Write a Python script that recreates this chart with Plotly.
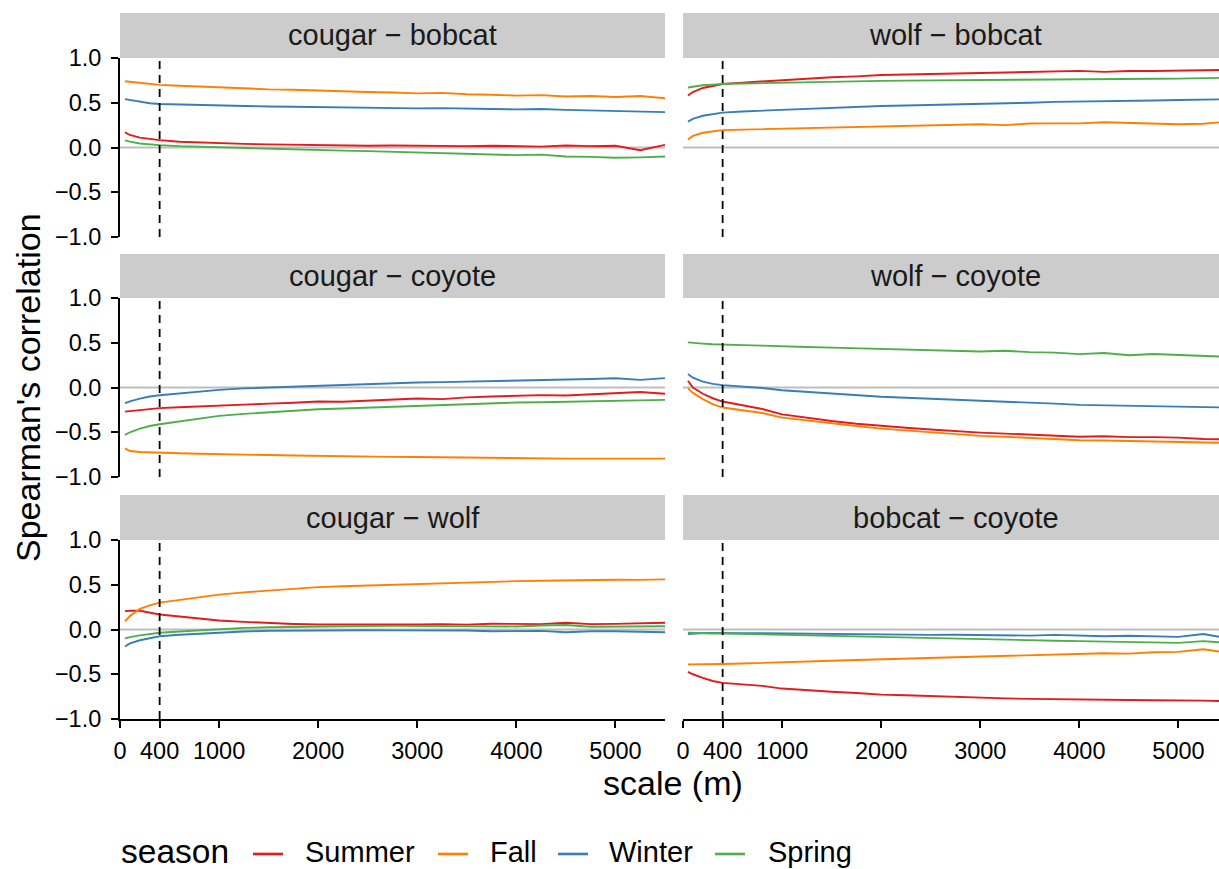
import plotly.graph_objects as go

# Spatial scale (m) at which the correlations were computed
scale_m = [50, 100, 200, 300, 400, 600, 800, 1000, 1250, 1500, 1750, 2000, 2250,
           2500, 2750, 3000, 3250, 3500, 3750, 4000, 4250, 4500, 4750, 5000, 5250, 5500]

seasons = ["Summer", "Fall", "Winter", "Spring"]
season_colors = ["#E41A1C", "#FF7F00", "#377EB8", "#4DAF4A"]

cougar_bobcat = {
    "Summer": [0.17, 0.14, 0.11, 0.095, 0.082, 0.065, 0.055, 0.045, 0.04, 0.035, 0.03, 0.022, 0.025,
               0.02, 0.022, 0.018, 0.022, 0.015, 0.02, 0.018, 0.01, 0.022, 0.015, 0.02, -0.03, 0.03],
    "Fall": [0.74, 0.735, 0.725, 0.71, 0.70, 0.69, 0.68, 0.67, 0.66, 0.65, 0.645, 0.635, 0.625,
             0.62, 0.615, 0.605, 0.61, 0.595, 0.59, 0.58, 0.585, 0.57, 0.575, 0.565, 0.575, 0.55],
    "Winter": [0.54, 0.53, 0.51, 0.495, 0.486, 0.48, 0.474, 0.467, 0.462, 0.458, 0.455, 0.45, 0.447,
               0.445, 0.44, 0.437, 0.44, 0.432, 0.43, 0.426, 0.43, 0.42, 0.415, 0.41, 0.405, 0.395],
    "Spring": [0.08, 0.065, 0.045, 0.035, 0.026, 0.015, 0.008, 0.0, -0.008, -0.015, -0.02, -0.03, -0.035,
               -0.04, -0.048, -0.055, -0.06, -0.065, -0.075, -0.085, -0.08, -0.1, -0.105, -0.115, -0.11, -0.1],
}

wolf_bobcat = {
    "Summer": [0.58, 0.62, 0.665, 0.69, 0.71, 0.725, 0.74, 0.755, 0.77, 0.785, 0.795, 0.81, 0.815,
               0.82, 0.83, 0.837, 0.84, 0.845, 0.85, 0.856, 0.845, 0.855, 0.855, 0.856, 0.86, 0.867],
    "Fall": [0.09, 0.13, 0.165, 0.183, 0.194, 0.2, 0.205, 0.213, 0.22, 0.225, 0.232, 0.24, 0.242,
             0.25, 0.255, 0.26, 0.25, 0.268, 0.27, 0.27, 0.282, 0.275, 0.262, 0.26, 0.265, 0.29],
    "Winter": [0.29, 0.32, 0.355, 0.375, 0.39, 0.403, 0.412, 0.426, 0.435, 0.445, 0.455, 0.464, 0.47,
               0.475, 0.485, 0.493, 0.495, 0.5, 0.51, 0.512, 0.52, 0.52, 0.525, 0.53, 0.535, 0.54],
    "Spring": [0.67, 0.68, 0.695, 0.703, 0.71, 0.715, 0.72, 0.725, 0.73, 0.735, 0.74, 0.744, 0.747,
               0.75, 0.753, 0.755, 0.757, 0.76, 0.762, 0.763, 0.765, 0.767, 0.768, 0.77, 0.775, 0.78],
}

cougar_coyote = {
    "Summer": [-0.27, -0.265, -0.255, -0.24, -0.23, -0.22, -0.21, -0.198, -0.19, -0.18, -0.17, -0.157, -0.16,
               -0.145, -0.135, -0.123, -0.13, -0.11, -0.1, -0.093, -0.085, -0.09, -0.075, -0.067, -0.05, -0.07],
    "Fall": [-0.68, -0.71, -0.72, -0.725, -0.728, -0.735, -0.74, -0.746, -0.75, -0.755, -0.76, -0.765, -0.77,
             -0.772, -0.775, -0.776, -0.78, -0.783, -0.787, -0.79, -0.792, -0.795, -0.795, -0.795, -0.797, -0.795],
    "Winter": [-0.175, -0.155, -0.125, -0.1, -0.086, -0.065, -0.045, -0.026, -0.01, 0.0, 0.01, 0.02, 0.028,
               0.035, 0.045, 0.056, 0.06, 0.065, 0.075, 0.082, 0.085, 0.09, 0.095, 0.104, 0.085, 0.105],
    "Spring": [-0.53, -0.5, -0.46, -0.43, -0.41, -0.38, -0.35, -0.317, -0.295, -0.275, -0.26, -0.243, -0.235,
               -0.225, -0.215, -0.205, -0.2, -0.19, -0.18, -0.168, -0.165, -0.16, -0.155, -0.149, -0.145, -0.138],
}

wolf_coyote = {
    "Summer": [0.075, 0.0, -0.07, -0.12, -0.157, -0.2, -0.24, -0.3, -0.34, -0.375, -0.405, -0.43, -0.45,
               -0.47, -0.49, -0.504, -0.515, -0.525, -0.535, -0.55, -0.545, -0.555, -0.555, -0.56, -0.575, -0.58],
    "Fall": [-0.01, -0.06, -0.13, -0.185, -0.224, -0.255, -0.285, -0.336, -0.37, -0.4, -0.43, -0.46, -0.48,
             -0.5, -0.52, -0.54, -0.55, -0.565, -0.575, -0.59, -0.593, -0.598, -0.6, -0.604, -0.61, -0.62],
    "Winter": [0.15, 0.11, 0.065, 0.04, 0.026, 0.01, -0.005, -0.03, -0.05, -0.065, -0.085, -0.104, -0.115,
               -0.125, -0.14, -0.15, -0.16, -0.17, -0.18, -0.194, -0.2, -0.205, -0.21, -0.213, -0.22, -0.224],
    "Spring": [0.504, 0.498, 0.49, 0.483, 0.478, 0.473, 0.468, 0.459, 0.452, 0.445, 0.437, 0.43, 0.425,
               0.418, 0.41, 0.403, 0.41, 0.395, 0.39, 0.373, 0.385, 0.36, 0.375, 0.366, 0.355, 0.343],
}

cougar_wolf = {
    "Summer": [0.205, 0.21, 0.21, 0.19, 0.168, 0.145, 0.125, 0.1, 0.085, 0.07, 0.062, 0.056, 0.055,
               0.058, 0.055, 0.056, 0.06, 0.055, 0.065, 0.063, 0.06, 0.075, 0.06, 0.063, 0.07, 0.075],
    "Fall": [0.09, 0.15, 0.23, 0.27, 0.3, 0.33, 0.36, 0.39, 0.415, 0.437, 0.457, 0.474, 0.483,
             0.492, 0.5, 0.51, 0.518, 0.525, 0.532, 0.54, 0.545, 0.55, 0.552, 0.556, 0.555, 0.56],
    "Winter": [-0.19, -0.155, -0.12, -0.095, -0.075, -0.058, -0.045, -0.03, -0.022, -0.015, -0.012, -0.01, -0.01,
               -0.008, -0.01, -0.01, -0.015, -0.012, -0.02, -0.02, -0.015, -0.03, -0.02, -0.02, -0.025, -0.03],
    "Spring": [-0.1, -0.085, -0.065, -0.05, -0.037, -0.022, -0.01, 0.007, 0.018, 0.025, 0.03, 0.034, 0.036,
               0.038, 0.04, 0.04, 0.042, 0.035, 0.04, 0.034, 0.045, 0.05, 0.03, 0.034, 0.04, 0.037],
}

bobcat_coyote = {
    "Summer": [-0.474, -0.5, -0.54, -0.575, -0.597, -0.615, -0.63, -0.66, -0.68, -0.695, -0.71, -0.728, -0.735,
               -0.745, -0.755, -0.765, -0.77, -0.775, -0.78, -0.784, -0.786, -0.788, -0.79, -0.79, -0.795, -0.8],
    "Fall": [-0.39, -0.39, -0.388, -0.386, -0.385, -0.38, -0.375, -0.37, -0.36, -0.35, -0.34, -0.332, -0.325,
             -0.318, -0.31, -0.3, -0.295, -0.29, -0.28, -0.27, -0.265, -0.27, -0.255, -0.25, -0.22, -0.26],
    "Winter": [-0.05, -0.045, -0.04, -0.038, -0.037, -0.04, -0.042, -0.045, -0.048, -0.05, -0.055, -0.056, -0.058,
               -0.06, -0.058, -0.063, -0.065, -0.068, -0.06, -0.07, -0.075, -0.07, -0.08, -0.082, -0.05, -0.1],
    "Spring": [-0.037, -0.04, -0.043, -0.044, -0.045, -0.05, -0.055, -0.063, -0.07, -0.075, -0.082, -0.09, -0.095,
               -0.1, -0.105, -0.112, -0.115, -0.12, -0.125, -0.13, -0.135, -0.14, -0.145, -0.15, -0.13, -0.15],
}

panel_titles = ["cougar − bobcat", "wolf − bobcat", "cougar − coyote",
                "wolf − coyote", "cougar − wolf", "bobcat − coyote"]
panel_data = [cougar_bobcat, wolf_bobcat, cougar_coyote, wolf_coyote, cougar_wolf, bobcat_coyote]

x_tick_vals = [0, 400, 1000, 2000, 3000, 4000, 5000]
x_tick_text = ["0", "400", "1000", "2000", "3000", "4000", "5000"]
y_tick_vals = [-1.0, -0.5, 0.0, 0.5, 1.0]
y_tick_text = ["−1.0", "−0.5", "0.0", "0.5", "1.0"]
reference_scale = 400

# ---- page geometry (pixels) ----
W, H = 1219, 869
FONT = "Liberation Sans"
PANEL_W = 545                      # full panel width for 0..5500 m
col_left = [120, 683]
col_xmax = [5500, (W - 683) / PANEL_W * 5500]   # right column runs off the page edge
row_px = [(58, 237), (298, 477), (540, 719)]
strip_px = [(13, 58), (254, 298), (495, 540)]

# legend row: key line start and label start for each season
LEGEND_Y = 852
legend_key_x = [253, 438, 558, 715]
legend_label_x = [305, 490, 609, 768]
KEY_LEN = 30


def fx(p):
    return p / W


def fy(p):
    return 1 - p / H


fig = go.Figure()
shapes = []
annotations = []
layout_axes = {}

for i, (title, data) in enumerate(zip(panel_titles, panel_data)):
    r, c = divmod(i, 2)
    n = i + 1
    xa = "x" if n == 1 else f"x{n}"
    ya = "y" if n == 1 else f"y{n}"
    xkey = "xaxis" if n == 1 else f"xaxis{n}"
    ykey = "yaxis" if n == 1 else f"yaxis{n}"
    bottom = r == 2
    left = c == 0
    x0_px = col_left[c]
    x1_px = min(col_left[c] + PANEL_W, W)

    for s, col in zip(seasons, season_colors):
        fig.add_trace(go.Scatter(
            x=scale_m, y=data[s], mode="lines", name=s,
            line=dict(color=col, width=1.9),
            legendgroup=s, showlegend=False,
            xaxis=xa, yaxis=ya,
        ))

    layout_axes[xkey] = dict(
        domain=[fx(x0_px), fx(x1_px)],
        range=[0, col_xmax[c]], anchor=ya,
        showgrid=False, zeroline=False,
        showline=bottom, linecolor="black", linewidth=2,
        ticks="outside" if bottom else "", ticklen=7, tickwidth=2, tickcolor="black",
        ticklabelstandoff=3,
        showticklabels=bottom, tickvals=x_tick_vals, ticktext=x_tick_text,
        tickfont=dict(family=FONT, size=23.5, color="black"),
    )
    layout_axes[ykey] = dict(
        domain=[fy(row_px[r][1]), fy(row_px[r][0])],
        range=[-1, 1], anchor=xa,
        showgrid=False, zeroline=False,
        showline=left, linecolor="black", linewidth=2,
        ticks="outside" if left else "", ticklen=7, tickwidth=2, tickcolor="black",
        ticklabelstandoff=5,
        showticklabels=left, tickvals=y_tick_vals, ticktext=y_tick_text,
        tickfont=dict(family=FONT, size=23.5, color="black"),
    )

    # zero reference line (drawn beneath the data)
    shapes.append(dict(type="line", xref=f"{xa} domain", yref=ya, x0=0, x1=1, y0=0, y1=0,
                       line=dict(color="#BEBEBE", width=2), layer="below"))
    # dashed reference scale
    shapes.append(dict(type="line", xref=xa, yref=f"{ya} domain", x0=reference_scale,
                       x1=reference_scale, y0=0, y1=1,
                       line=dict(color="black", width=1.8, dash="8px,6px"), layer="above"))
    # facet strip
    shapes.append(dict(type="rect", xref="paper", yref="paper",
                       x0=fx(x0_px), x1=fx(x1_px),
                       y0=fy(strip_px[r][1]), y1=fy(strip_px[r][0]),
                       fillcolor="#CCCCCC", line=dict(width=0), layer="below"))
    annotations.append(dict(text=title, xref="paper", yref="paper",
                            x=fx(x0_px + PANEL_W / 2),
                            y=fy((strip_px[r][0] + strip_px[r][1]) / 2),
                            showarrow=False, xanchor="center", yanchor="middle",
                            font=dict(family=FONT, size=29, color="#1A1A1A")))

# axis titles
annotations.append(dict(text="Spearman's correlation", xref="paper", yref="paper",
                        x=fx(28), y=fy(388), textangle=-90, showarrow=False,
                        xanchor="center", yanchor="middle",
                        font=dict(family=FONT, size=34, color="black")))
annotations.append(dict(text="scale (m)", xref="paper", yref="paper",
                        x=fx(673), y=fy(783), showarrow=False,
                        xanchor="center", yanchor="middle",
                        font=dict(family=FONT, size=34, color="black")))

# season key along the bottom
annotations.append(dict(text="season", xref="paper", yref="paper",
                        x=fx(119), y=fy(LEGEND_Y - 1), showarrow=False,
                        xanchor="left", yanchor="middle",
                        font=dict(family=FONT, size=33.5, color="black")))
for s, col, kx, lx in zip(seasons, season_colors, legend_key_x, legend_label_x):
    shapes.append(dict(type="line", xref="paper", yref="paper",
                       x0=fx(kx), x1=fx(kx + KEY_LEN), y0=fy(LEGEND_Y + 2), y1=fy(LEGEND_Y + 2),
                       line=dict(color=col, width=2.6)))
    annotations.append(dict(text=s, xref="paper", yref="paper",
                            x=fx(lx - 2), y=fy(LEGEND_Y), showarrow=False,
                            xanchor="left", yanchor="middle",
                            font=dict(family=FONT, size=29, color="black")))

fig.update_layout(
    width=W, height=H,
    margin=dict(l=0, r=0, t=0, b=0, autoexpand=False),
    paper_bgcolor="white", plot_bgcolor="white",
    shapes=shapes, annotations=annotations,
    showlegend=False,
    **layout_axes,
)

fig.write_html("out.html")
